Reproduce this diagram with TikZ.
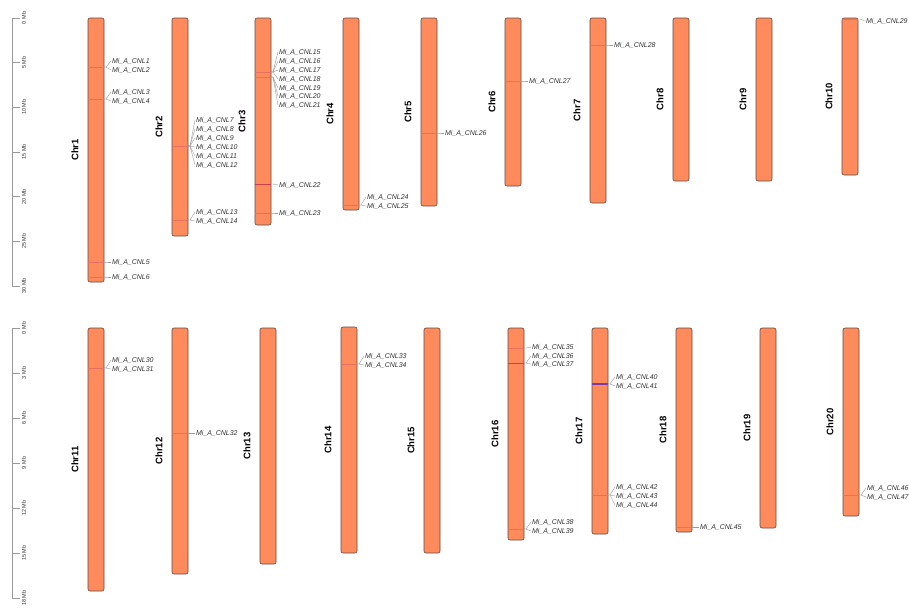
\documentclass[tikz,border=0pt]{standalone}
\usepackage{fontspec}
\setmainfont{Liberation Sans}
\usepackage{tikz}
\usetikzlibrary{positioning,calc}
\definecolor{chromfill}{HTML}{FF8B5C}
\definecolor{chromedge}{HTML}{5E4A40}
\definecolor{markred}{HTML}{E8705F}
\definecolor{markdark}{HTML}{C8404E}
\definecolor{markblue}{HTML}{7A3AAE}
\definecolor{ink}{HTML}{333333}
\newcommand{\cnl}[1]{Mi\_A\_CNL#1}

\begin{document}
\begin{tikzpicture}[x=1pt,y=-1pt,
    chrom/.style={draw=chromedge, fill=chromfill, rounded corners=2pt, line width=0.6pt,
                  minimum width=16pt, inner sep=0pt, outer sep=0pt},
    chrlab/.style={rotate=90, font=\bfseries\fontsize{9.5}{10}\selectfont},
    genelab/.style={anchor=west, inner sep=0.8pt, text=ink, font=\itshape\fontsize{7}{7}\selectfont},
    link/.style={draw=gray!80, line width=0.4pt},
    mlight/.style={draw=markred, line width=0.4pt},
    mdark/.style={draw=markdark, line width=0.6pt},
    mblue/.style={draw=markblue, line width=1.3pt},
    axis/.style={draw=gray!80, line width=0.6pt},
    ticklab/.style={rotate=90, font=\fontsize{5.5}{5.5}\selectfont, text=ink}]

  \useasboundingbox (0,0) rectangle (909,611);

  % scale bars
  \draw[axis] (12,18) -- (12,286);
  \foreach \m in {0,5,...,30} {
    \draw[axis] (12,{18+8.93*\m}) -- (20,{18+8.93*\m});
    \node[ticklab] (t\m) at (24,{18+8.93*\m}) {\m\ Mb};
  }
  \draw[axis] (12,328) -- (12,598);
  \foreach \m in {0,3,...,18} {
    \draw[axis] (12,{328+15*\m}) -- (20,{328+15*\m});
    \node[ticklab] (b\m) at (24,{328+15*\m}) {\m\ Mb};
  }

  % chromosomes
  \foreach \n/\x/\t/\b in {1/96/18/282, 2/180/18/236, 3/263/18/225, 4/351/18/210,
      5/429/18/206, 6/513/18/186, 7/598/18/203, 8/681/18/181, 9/764/18/181,
      10/850/18/175, 11/96/328/591, 12/180/328/574, 13/268/328/564, 14/349/327/553,
      15/432/328/553, 16/516/328/540, 17/600/328/534, 18/684/328/532,
      19/768/328/528, 20/851/328/516} {
    \node[chrom, minimum height={(\b-\t)*1pt}] (c\n) at (\x,{(\t+\b)/2}) {};
    \node[chrlab] (l\n) at ([xshift=-21pt]c\n.center) {Chr\n};
  }

  % genes
  \foreach \c/\g/\l/\k/\col in {1/67/61/1/mlight, 1/67/70/2/mlight, 1/99/92/3/mlight,
      1/99/101/4/mlight, 1/262/262/5/mlight, 1/277/277/6/mlight,
      2/146/120/7/mlight, 2/146/129/8/mlight, 2/146/138/9/mlight, 2/146/147/10/mlight,
      2/146/156/11/mlight, 2/146/165/12/mlight, 2/220/212/13/mlight, 2/220/221/14/mlight,
      3/72/52/15/mlight, 3/72/61/16/mlight, 3/72/70/17/mlight, 3/72/79/18/mlight,
      3/77/88/19/mlight, 3/77/96/20/mlight, 3/77/105/21/mlight, 3/184/185/22/mdark,
      3/213/213/23/mlight, 4/205/197/24/mlight, 4/205/206/25/mlight,
      5/133/133/26/mlight, 6/81/81/27/mlight, 7/45/45/28/mlight, 10/19/21/29/mlight,
      11/368/360/30/mlight, 11/368/369/31/mlight, 12/433/433/32/mlight,
      14/364/356/33/mlight, 14/364/365/34/mlight,
      16/348/347/35/mlight, 16/363/356/36/mdark, 16/363/364/37/mdark,
      16/529/522/38/mlight, 16/529/531/39/mlight,
      17/384/377/40/mblue, 17/384/386/41/mblue, 17/495/487/42/mlight,
      17/495/496/43/mlight, 17/495/505/44/mlight,
      18/527/527/45/mlight, 20/495/488/46/mlight, 20/495/497/47/mlight} {
    \coordinate (p\k) at (c\c.east |- 0,\g);
    \coordinate (q\k) at (c\c.east |- 0,\l);
    \draw[\col] (c\c.west |- p\k) -- (p\k);
    \node[genelab] (g\k) at ([xshift=7pt]q\k) {\cnl{\k}};
    \draw[link] (p\k) -- ++(2,0) -- (g\k.west);
  }
\end{tikzpicture}
\end{document}
